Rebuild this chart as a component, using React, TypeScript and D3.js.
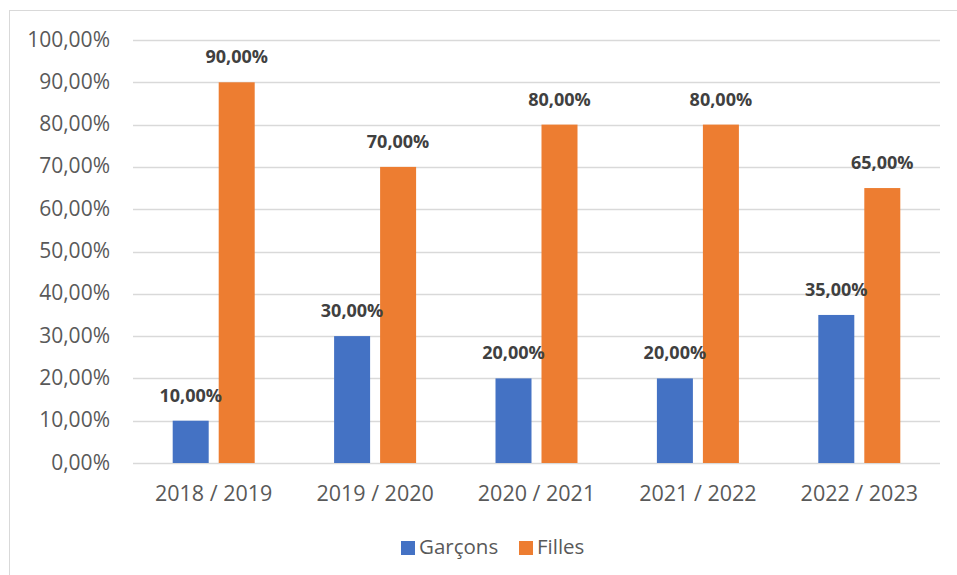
import React, { useEffect, useRef } from "react";
import * as d3 from "d3";

// Chart values
const categories = ["2018 / 2019", "2019 / 2020", "2020 / 2021", "2021 / 2022", "2022 / 2023"];
const series = ["Garçons", "Filles"];
const garcons = [0.1, 0.3, 0.2, 0.2, 0.35];
const filles = [0.9, 0.7, 0.8, 0.8, 0.65];
const yTicks = [0, 0.1, 0.2, 0.3, 0.4, 0.5, 0.6, 0.7, 0.8, 0.9, 1];

const colors: Record<string, string> = { "Garçons": "#4472C4", Filles: "#ED7D31" };
const FONT = "'Open Sans', sans-serif";

const pct = (v: number) => (v * 100).toFixed(2).replace(".", ",") + "%";

export default function App() {
  const svgRef = useRef<SVGSVGElement | null>(null);

  useEffect(() => {
    if (!svgRef.current) return;
    const width = 957;
    const height = 575;
    const svg = d3.select(svgRef.current);
    svg.selectAll("*").remove();

    // chart frame
    svg.append("rect")
      .attr("x", 9.5)
      .attr("y", 10.5)
      .attr("width", width)
      .attr("height", height)
      .attr("fill", "#fff")
      .attr("stroke", "#D9D9D9")
      .attr("stroke-width", 1);

    const x = d3.scaleBand<string>().domain(categories).range([133, 940]);
    const y = d3.scaleLinear().domain([0, 1]).range([463, 40]);

    const groupW = 82;
    const sub = d3.scaleBand<string>()
      .domain(series)
      .range([(x.bandwidth() - groupW) / 2, (x.bandwidth() + groupW) / 2])
      .paddingInner(10 / 46);

    // gridlines
    svg.append("g")
      .selectAll("line")
      .data(yTicks)
      .enter()
      .append("line")
      .attr("x1", 133)
      .attr("x2", 940)
      .attr("y1", d => Math.round(y(d)) + 0.5)
      .attr("y2", d => Math.round(y(d)) + 0.5)
      .attr("stroke", "#D9D9D9")
      .attr("stroke-width", 1.3);

    // y tick labels
    svg.append("g")
      .selectAll("text")
      .data(yTicks)
      .enter()
      .append("text")
      .attr("x", 110)
      .attr("y", d => y(d) + 6.5)
      .attr("text-anchor", "end")
      .attr("font-family", FONT)
      .attr("font-size", 21)
      .attr("fill", "#595959")
      .text(d => pct(d));

    // x labels
    svg.append("g")
      .selectAll("text")
      .data(categories)
      .enter()
      .append("text")
      .attr("x", d => (x(d) as number) + x.bandwidth() / 2)
      .attr("y", 501)
      .attr("text-anchor", "middle")
      .attr("font-family", FONT)
      .attr("font-size", 21.5)
      .attr("fill", "#595959")
      .text(d => d);

    const rows = categories.map((c, i) => ({ c, vals: [garcons[i], filles[i]] }));

    const groups = svg.append("g")
      .selectAll("g")
      .data(rows)
      .enter()
      .append("g")
      .attr("transform", d => `translate(${x(d.c)},0)`);

    groups.selectAll("rect")
      .data(d => series.map((s, k) => ({ s, v: d.vals[k] })))
      .enter()
      .append("rect")
      .attr("x", d => sub(d.s) as number)
      .attr("y", d => y(d.v))
      .attr("width", sub.bandwidth())
      .attr("height", d => y(0) - y(d.v))
      .attr("fill", d => colors[d.s]);

    groups.selectAll("text")
      .data(d => series.map((s, k) => ({ s, v: d.vals[k] })))
      .enter()
      .append("text")
      .attr("x", d => (sub(d.s) as number) + sub.bandwidth() / 2)
      .attr("y", d => y(d.v) - 19)
      .attr("text-anchor", "middle")
      .attr("font-family", FONT)
      .attr("font-weight", "bold")
      .attr("font-size", 18)
      .attr("fill", "#404040")
      .text(d => pct(d.v));

    // legend
    const legend = svg.append("g");
    const legendX = [401, 519];
    series.forEach((s, i) => {
      legend.append("rect")
        .attr("x", legendX[i])
        .attr("y", 541)
        .attr("width", 14)
        .attr("height", 14)
        .attr("fill", colors[s]);
      legend.append("text")
        .attr("x", legendX[i] + 18)
        .attr("y", 554)
        .attr("font-family", FONT)
        .attr("font-size", 20.5)
        .attr("fill", "#595959")
        .text(s);
    });
  }, []);

  return (
    <svg
      ref={svgRef}
      width={957}
      height={575}
      viewBox="0 0 957 575"
      style={{ position: "absolute", left: 0, top: 0, background: "#fff" }}
    />
  );
}
